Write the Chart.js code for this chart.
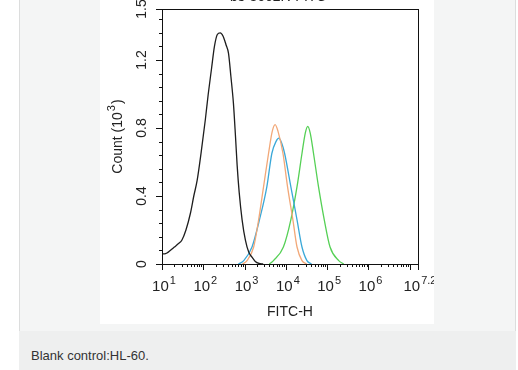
<!DOCTYPE html>
<html lang="en">
<head>
<meta charset="UTF-8">
<title>Blank control HL-60</title>
<script src="https://cdn.jsdelivr.net/npm/chart.js"></script>
<style>
    body { margin: 0; background: #fff; font-family: "Liberation Sans", Arial, sans-serif; }
    .caixa {
        position: absolute; left: 19px; top: -1px; width: 495px; height: 331px;
        background: #f4f5f5; border: 1px solid #dcdddd;
    }
    .grafico { position: absolute; left: 100px; top: 0; width: 334px; height: 324px; background: #fff; }
    .legenda {
        position: absolute; left: 19px; top: 331px; width: 497px; height: 39px;
        background: #eeefef; color: #333; font-size: 13px;
    }
    .legenda span { position: absolute; left: 12px; top: 17px; }
</style>
</head>
<body>
    <div class="caixa"></div>
    <div class="grafico"><canvas id="myChart" width="334" height="324"></canvas></div>
    <div class="legenda"><span>Blank control:HL-60.</span></div>

<script>
    // x values are log10(FITC-H), y values are counts in 10^3
    const blankX = [1.0, 1.06, 1.12, 1.2, 1.3, 1.4, 1.48, 1.58, 1.69, 1.77, 1.85, 1.95, 2.05, 2.12, 2.2, 2.27, 2.34, 2.41, 2.48, 2.55, 2.61, 2.67, 2.73, 2.78, 2.82, 2.87, 2.94, 3.02, 3.1, 3.18, 3.26, 3.35, 3.45];
    const blankY = [0.06, 0.06, 0.065, 0.08, 0.10, 0.12, 0.14, 0.20, 0.30, 0.40, 0.49, 0.66, 0.85, 1.0, 1.15, 1.28, 1.35, 1.36, 1.34, 1.29, 1.24, 1.1, 0.945, 0.75, 0.58, 0.42, 0.26, 0.14, 0.07, 0.04, 0.015, 0.003, 0];

    const laranjaX = [2.95, 3.06, 3.22, 3.34, 3.46, 3.58, 3.67, 3.74, 3.81, 3.93, 4.04, 4.17, 4.27, 4.39, 4.5];
    const laranjaY = [0, 0.02, 0.10, 0.26, 0.455, 0.65, 0.78, 0.82, 0.78, 0.65, 0.455, 0.26, 0.10, 0.02, 0];

    const azulX = [2.85, 2.98, 3.18, 3.36, 3.54, 3.66, 3.76, 3.83, 3.9, 3.97, 4.12, 4.27, 4.39, 4.51, 4.62];
    const azulY = [0, 0.02, 0.10, 0.26, 0.455, 0.65, 0.72, 0.74, 0.71, 0.65, 0.455, 0.26, 0.10, 0.02, 0];

    const verdeX = [3.6, 3.7, 3.94, 4.12, 4.27, 4.39, 4.47, 4.53, 4.59, 4.67, 4.79, 4.93, 5.07, 5.28, 5.4];
    const verdeY = [0, 0.02, 0.10, 0.26, 0.455, 0.65, 0.77, 0.81, 0.77, 0.65, 0.455, 0.26, 0.10, 0.02, 0];

    const xTicks = [1, 2, 3, 4, 5, 6, 7.2];
    const xTickExps = ['1', '2', '3', '4', '5', '6', '7.2'];
    const yTicks = [0, 0.4, 0.8, 1.2, 1.5];
    const yTickLabels = ['0', '0.4', '0.8', '1.2', '1.5'];

    function pontos(xs, ys) {
        return xs.map((x, i) => ({ x: x, y: ys[i] }));
    }

    function serie(xs, ys, cor) {
        return {
            data: pontos(xs, ys),
            borderColor: cor,
            borderWidth: 1.3,
            pointRadius: 0,
            fill: false,
            cubicInterpolationMode: 'monotone'
        };
    }

    // desenha "10" com expoente
    function potencia(ctx, exp, cx, base, tamBase, tamExp) {
        ctx.font = tamBase + 'px "Liberation Sans", Arial';
        const wb = ctx.measureText('10').width;
        ctx.font = tamExp + 'px "Liberation Sans", Arial';
        const we = ctx.measureText(exp).width;
        const x0 = cx - (wb + we + 1) / 2;
        ctx.textAlign = 'left';
        ctx.textBaseline = 'alphabetic';
        ctx.font = tamBase + 'px "Liberation Sans", Arial';
        ctx.fillText('10', x0, base);
        ctx.font = tamExp + 'px "Liberation Sans", Arial';
        ctx.fillText(exp, x0 + wb + 1, base - 7);
    }

    const eixos = {
        id: 'eixos',
        afterDraw(chart) {
            const ctx = chart.ctx;
            const a = chart.chartArea;
            const sx = chart.scales.x;
            const sy = chart.scales.y;
            ctx.save();
            ctx.strokeStyle = '#111';
            ctx.fillStyle = '#222';
            ctx.lineWidth = 1;
            ctx.strokeRect(Math.round(a.left) + 0.5, Math.round(a.top) + 0.5, Math.round(a.right - a.left), Math.round(a.bottom - a.top));

            // ticks do eixo x (log)
            ctx.beginPath();
            for (let d = 1; d <= 7; d++) {
                for (let m = 1; m <= 9; m++) {
                    const v = d + Math.log10(m);
                    if (v > 7.2) break;
                    const px = Math.round(sx.getPixelForValue(v)) + 0.5;
                    const len = m === 1 ? 6 : 3;
                    ctx.moveTo(px, a.bottom);
                    ctx.lineTo(px, a.bottom + len);
                }
            }
            const pxFim = Math.round(sx.getPixelForValue(7.2)) + 0.5;
            ctx.moveTo(pxFim, a.bottom);
            ctx.lineTo(pxFim, a.bottom + 6);

            // ticks do eixo y
            for (let v = 0; v <= 1.5001; v += 0.08) {
                const py = Math.round(sy.getPixelForValue(v)) + 0.5;
                ctx.moveTo(a.left, py);
                ctx.lineTo(a.left - 3, py);
            }
            yTicks.forEach(v => {
                const py = Math.round(sy.getPixelForValue(v)) + 0.5;
                ctx.moveTo(a.left, py);
                ctx.lineTo(a.left - 6, py);
            });
            ctx.stroke();

            // rotulos x
            xTicks.forEach((v, i) => {
                potencia(ctx, xTickExps[i], sx.getPixelForValue(v) + 2, 291, 15, 11);
            });

            // rotulos y (rotacionados)
            ctx.font = '14px "Liberation Sans", Arial';
            ctx.textAlign = 'center';
            ctx.textBaseline = 'middle';
            yTicks.forEach((v, i) => {
                ctx.save();
                ctx.translate(42, sy.getPixelForValue(v));
                ctx.rotate(-Math.PI / 2);
                ctx.fillText(yTickLabels[i], 0, 0);
                ctx.restore();
            });

            // titulo y
            ctx.save();
            ctx.translate(22, (a.top + a.bottom) / 2);
            ctx.rotate(-Math.PI / 2);
            ctx.font = '14px "Liberation Sans", Arial';
            const t1 = 'Count (10';
            const w1 = ctx.measureText(t1).width;
            ctx.font = '11px "Liberation Sans", Arial';
            const w2 = ctx.measureText('3').width;
            ctx.font = '14px "Liberation Sans", Arial';
            const w3 = ctx.measureText(')').width;
            let x0 = -(w1 + w2 + w3 + 2) / 2;
            ctx.textAlign = 'left';
            ctx.textBaseline = 'alphabetic';
            ctx.fillText(t1, x0, 0);
            ctx.font = '11px "Liberation Sans", Arial';
            ctx.fillText('3', x0 + w1 + 1, -7);
            ctx.font = '14px "Liberation Sans", Arial';
            ctx.fillText(')', x0 + w1 + w2 + 2, 0);
            ctx.restore();

            // titulo x
            ctx.font = '14px "Liberation Sans", Arial';
            ctx.textAlign = 'center';
            ctx.textBaseline = 'middle';
            ctx.fillText('FITC-H', (a.left + a.right) / 2, 312);

            // titulo superior (cortado)
            ctx.textAlign = 'left';
            ctx.textBaseline = 'alphabetic';
            ctx.fillText('bs-8662R-FITC', 130, 1);
            ctx.fillStyle = '#55d055';
            ctx.fillText('- - -', 222, 1);
            ctx.restore();
        }
    };

    const ctx = document.getElementById('myChart').getContext('2d');
    const myChart = new Chart(ctx, {
        type: 'line',
        data: {
            datasets: [
                serie(blankX, blankY, '#1e1e1e'),
                serie(laranjaX, laranjaY, '#f2a878'),
                serie(azulX, azulY, '#3aa8d8'),
                serie(verdeX, verdeY, '#55d055')
            ]
        },
        options: {
            responsive: false,
            animation: false,
            layout: { padding: { left: 62, right: 16, top: 9, bottom: 60 } },
            plugins: { legend: { display: false }, tooltip: { enabled: false } },
            scales: {
                x: { type: 'linear', min: 1, max: 7.2, display: false },
                y: { min: 0, max: 1.5, display: false }
            }
        },
        plugins: [eixos]
    });
</script>
</body>
</html>
